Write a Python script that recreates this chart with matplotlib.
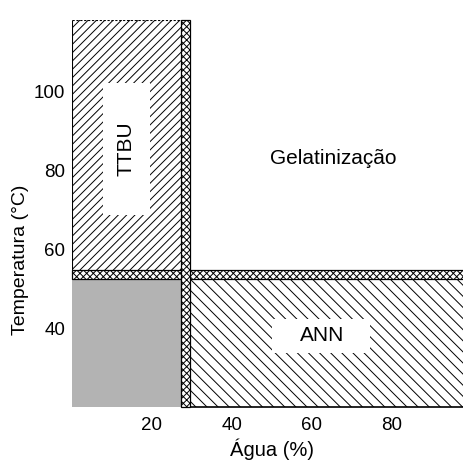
import matplotlib
matplotlib.use('Agg')
import matplotlib.pyplot as plt
from matplotlib.patches import Rectangle

plt.rcParams['font.family'] = ['Liberation Sans', 'DejaVu Sans']
plt.rcParams['hatch.linewidth'] = 0.7

# axis ranges and ticks
x_range = [0, 98]
y_range = [20, 118]
x_ticks = [20, 40, 60, 80]
y_ticks = [40, 60, 80, 100]

# regions of the state diagram: [x0, x1, y0, y1]
glassy = [0, 27.25, 20, 52.4]          # grey block
ttbu = [0, 27.25, 54.7, 118]           # hatched upper left
ann = [29.5, 98, 20, 52.4]             # hatched lower right
band_h = [0, 98, 52.4, 54.7]           # horizontal transition band
band_v = [27.25, 29.5, 20, 118]        # vertical transition band
ttbu_box = [7.75, 19.5, 68.6, 102]     # white box behind TTBU label
ann_box = [50, 74.5, 33.6, 42.3]       # white box behind ANN label

labels = ['TTBU', 'ANN', 'Gelatinização']
label_pos = [(13.4, 85.5), (62.5, 38.1), (65.3, 83)]


def rect(b, **kw):
    return Rectangle((b[0], b[2]), b[1] - b[0], b[3] - b[2], **kw)


fig = plt.figure(figsize=(4.64, 4.61), dpi=100)
ax = fig.add_axes([72 / 464, 54 / 461, 392 / 464, 387 / 461])
ax.set_xlim(x_range)
ax.set_ylim(y_range)

ax.add_patch(rect(glassy, facecolor='#b3b3b3', edgecolor='none', zorder=1))
ax.add_patch(rect(ttbu, facecolor='white', edgecolor='black', linewidth=0, hatch='////', zorder=1))
ax.add_patch(rect(ann, facecolor='white', edgecolor='black', linewidth=0, hatch='\\\\\\', zorder=1))

# outline of the hatched regions
ax.vlines(ttbu[0], ttbu[2], ttbu[3], color='black', linewidth=0.8, zorder=2)
ax.hlines(ttbu[3], ttbu[0], ttbu[1], color='black', linewidth=0.8, linestyles=(0, (2, 1.5)), zorder=2)
ax.hlines(ann[2], ann[0], ann[1], color='black', linewidth=1.2, zorder=2, clip_on=False)

# transition bands
ax.add_patch(rect(band_h, facecolor='white', edgecolor='black', linewidth=0.9, hatch='xxxxx', zorder=3, clip_on=False))
ax.add_patch(rect(band_v, facecolor='white', edgecolor='black', linewidth=0.9, hatch='xxxxx', zorder=4, clip_on=False))

# label boxes
ax.add_patch(rect(ttbu_box, facecolor='white', edgecolor='none', zorder=5))
ax.add_patch(rect(ann_box, facecolor='white', edgecolor='none', zorder=5))

ax.text(*label_pos[0], labels[0], rotation=90, ha='center', va='center', fontsize=15, zorder=6)
ax.text(*label_pos[1], labels[1], ha='center', va='center', fontsize=15, zorder=6)
ax.text(*label_pos[2], labels[2], ha='center', va='center', fontsize=15, zorder=6)

ax.set_xticks(x_ticks)
ax.set_yticks(y_ticks)
ax.tick_params(length=0, labelsize=13.5)
ax.tick_params(axis='x', pad=7)
ax.tick_params(axis='y', pad=5)
for s in ax.spines.values():
    s.set_visible(False)

fig.text(272 / 464, 1 - 449 / 461, 'Água (%)', ha='center', va='center', fontsize=14.5)
fig.text(21 / 464, 1 - 260 / 461, 'Temperatura (°C)', rotation=90, ha='center', va='center', fontsize=14)

fig.savefig('out.png', dpi=100)
